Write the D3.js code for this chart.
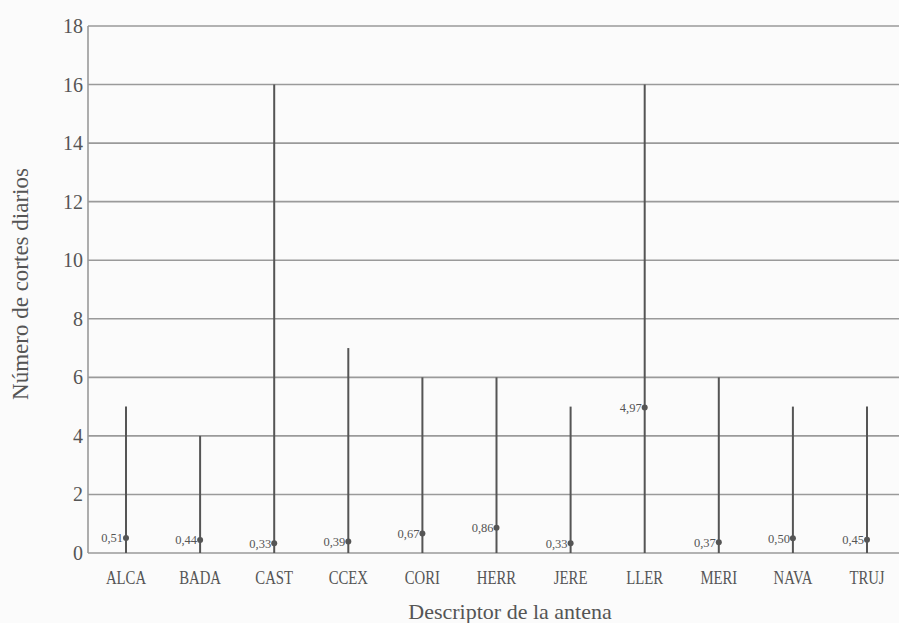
<!DOCTYPE html>
<html><head><meta charset="utf-8">
<script src="https://cdn.jsdelivr.net/npm/d3@7"></script>
<style>body{margin:0;background:#fdfdfd}svg{display:block}</style>
</head><body>
<script>
const categories = ["ALCA","BADA","CAST","CCEX","CORI","HERR","JERE","LLER","MERI","NAVA","TRUJ"];
const maxValues = [5,4,16,7,6,6,5,16,6,5,5];
const minValues = [0,0,0,0,0,0,0,0,0,0,0];
const meanValues = [0.51,0.44,0.33,0.39,0.67,0.86,0.33,4.97,0.37,0.50,0.45];
const meanLabels = ["0,51","0,44","0,33","0,39","0,67","0,86","0,33","4,97","0,37","0,50","0,45"];
const yTicks = [0,2,4,6,8,10,12,14,16,18];

const W = 899, H = 623;
const svg = d3.select("body").append("svg").attr("width", W).attr("height", H)
  .style("font-family", "'Liberation Serif','Times New Roman',serif");
svg.append("rect").attr("width", W).attr("height", H).attr("fill", "#fbfbfb");

const x = d3.scalePoint().domain(categories).range([126, 867]);
const y = d3.scaleLinear().domain([0, 18]).range([553, 26]);
const left = 88, right = 899;

// gridlines
svg.append("g").selectAll("line").data(yTicks).join("line")
  .attr("x1", left).attr("x2", right)
  .attr("y1", d => y(d)).attr("y2", d => y(d))
  .attr("stroke", "#9a9a9a").attr("stroke-width", 1.6);

// y axis line
svg.append("line").attr("x1", left).attr("x2", left).attr("y1", y(18)).attr("y2", y(0))
  .attr("stroke", "#9a9a9a").attr("stroke-width", 1.6);

// y tick labels
svg.append("g").selectAll("text").data(yTicks).join("text")
  .attr("x", left - 5).attr("y", d => y(d)).attr("dy", "0.35em")
  .attr("text-anchor", "end").attr("font-size", 20).attr("fill", "#555")
  .text(d => d);

// category labels
svg.append("g").selectAll("text").data(categories).join("text")
  .attr("text-anchor", "middle").attr("font-size", 18).attr("fill", "#555")
  .attr("transform", d => `translate(${x(d)},584) scale(0.82,1)`)
  .text(d => d);

const data = categories.map((c, i) => ({c, max: maxValues[i], min: minValues[i], mean: meanValues[i], label: meanLabels[i]}));

// range lines
svg.append("g").selectAll("line").data(data).join("line")
  .attr("x1", d => x(d.c)).attr("x2", d => x(d.c))
  .attr("y1", d => y(d.min)).attr("y2", d => y(d.max))
  .attr("stroke", "#555").attr("stroke-width", 2);

// mean dots
svg.append("g").selectAll("circle").data(data).join("circle")
  .attr("cx", d => x(d.c)).attr("cy", d => y(d.mean)).attr("r", 3)
  .attr("fill", "#555");

// mean labels
svg.append("g").selectAll("text").data(data).join("text")
  .attr("x", d => x(d.c) - 3).attr("y", d => y(d.mean)).attr("dy", "0.35em")
  .attr("text-anchor", "end").attr("font-size", 12.5).attr("fill", "#555")
  .text(d => d.label);

// axis titles
svg.append("text").attr("x", 510).attr("y", 619).attr("text-anchor", "middle")
  .attr("font-size", 22).attr("fill", "#555").text("Descriptor de la antena");
svg.append("text").attr("transform", "translate(28,284) rotate(-90)").attr("text-anchor", "middle")
  .attr("font-size", 23).attr("fill", "#555").text("Número de cortes diarios");
</script>
</body></html>
